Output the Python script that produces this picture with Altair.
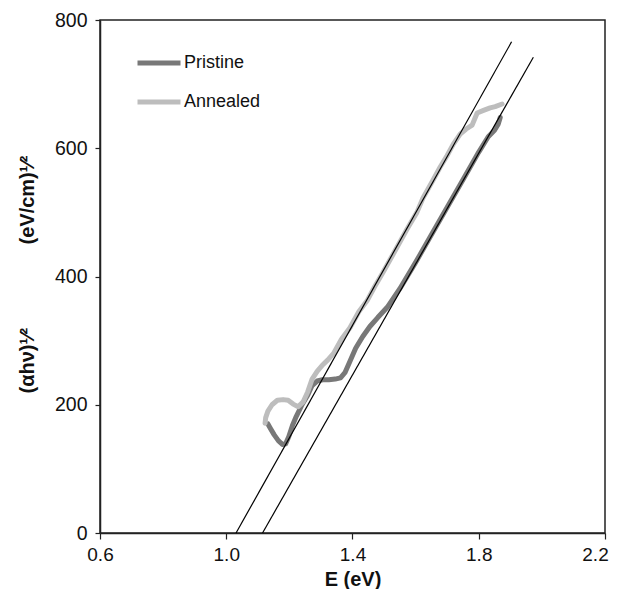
import altair as alt
import pandas as pd

# ---- data ----
series = ["Pristine", "Annealed"]
colors = ["#787878", "#bdbdbd"]

pristine_E = [1.132, 1.140, 1.152, 1.165, 1.178, 1.188, 1.198, 1.210, 1.222, 1.240,
              1.258, 1.272, 1.288, 1.305, 1.325, 1.345, 1.362, 1.376, 1.392, 1.410,
              1.432, 1.455, 1.480, 1.510, 1.550, 1.600, 1.650, 1.700, 1.750, 1.800,
              1.830, 1.850, 1.862, 1.868]
pristine_Y = [170, 163, 153, 144, 138, 139, 150, 168, 182, 200,
              215, 230, 237, 239, 239, 240, 242, 250, 268, 288,
              306, 322, 336, 352, 381, 422, 465, 508, 551, 594,
              618, 628, 638, 648]

annealed_E = [1.123, 1.125, 1.132, 1.145, 1.162, 1.180, 1.196, 1.212, 1.228, 1.243,
              1.258, 1.272, 1.288, 1.305, 1.322, 1.340, 1.365, 1.392, 1.420, 1.446,
              1.470, 1.495, 1.530, 1.573, 1.604, 1.623, 1.655, 1.677, 1.699, 1.719,
              1.741, 1.760, 1.779, 1.795, 1.815, 1.836, 1.852, 1.874]
annealed_Y = [171, 180, 190, 200, 207, 208, 207, 201, 197, 204,
              220, 240, 252, 262, 270, 280, 302, 320, 345, 362,
              384, 405, 436, 474, 500, 522, 550, 570, 588, 606,
              622, 630, 636, 655, 659, 663, 665, 669]

fit_names = ["fit A", "fit P"]
fit_E = [[1.031, 1.904], [1.115, 1.973]]
fit_Y = [[0, 766], [0, 742]]

x_ticks = [0.6, 1.0, 1.4, 1.8, 2.2]
y_ticks = [0, 200, 400, 600, 800]

# ---- tables ----
rows = []
for name, xs, ys in [("Pristine", pristine_E, pristine_Y), ("Annealed", annealed_E, annealed_Y)]:
    for i, (x, y) in enumerate(zip(xs, ys)):
        rows.append({"series": name, "E": x, "Y": y, "i": i})
curves = pd.DataFrame(rows)

frows = []
for name, xs, ys in zip(fit_names, fit_E, fit_Y):
    for i, (x, y) in enumerate(zip(xs, ys)):
        frows.append({"fit": name, "E": x, "Y": y, "i": i})
fits = pd.DataFrame(frows)

FONT = "Liberation Sans"
NB = "\u00a0"
y_title = "(αhν)¹⁄²" + NB * 15 + "(eV/cm)¹⁄²"

x_scale = alt.Scale(domain=[0.6, 2.2], nice=False, zero=False)
y_scale = alt.Scale(domain=[0, 800], nice=False)

x_axis = alt.Axis(values=x_ticks, format=".1f", title="E (eV)", grid=False,
                  labelFlush=False, labelOverlap=False,
                  labelOffset={"condition": {"test": "datum.value > 2.1", "value": -10}, "value": 0},
                  tickSize=6, labelPadding=6, labelFontSize=19, labelColor="#111",
                  titleFontSize=20, titleFontWeight="bold", titleY=52,
                  titleBaseline="alphabetic", titleColor="#111",
                  domainColor="#222", domainWidth=1.5, tickColor="#222", tickWidth=1.2)
y_axis = alt.Axis(values=y_ticks, format="d", title=y_title, grid=False,
                  labelFlush=False, labelOverlap=False,
                  tickSize=5, labelPadding=8, labelFontSize=19.5, labelColor="#111",
                  titleFontSize=20, titleFontWeight="bold", titleAngle=-90,
                  titleX=-67, titleY=254, titleAlign="center",
                  titleBaseline="alphabetic", titleColor="#111",
                  domainColor="#222", domainWidth=1.5, tickColor="#222", tickWidth=1.2)

base_curves = alt.Chart(curves).mark_line(strokeWidth=5, strokeCap="round", strokeJoin="round").encode(
    x=alt.X("E:Q", scale=x_scale, axis=x_axis),
    y=alt.Y("Y:Q", scale=y_scale, axis=y_axis),
    color=alt.Color("series:N", scale=alt.Scale(domain=series, range=colors),
                    legend=alt.Legend(title=None, orient="none", legendX=35, legendY=19,
                                      symbolType="stroke", symbolSize=1849,
                                      symbolStrokeWidth=5, labelFontSize=18,
                                      labelColor="#111", labelOffset=1, padding=0,
                                      rowPadding=5, labelFont=FONT)),
    order=alt.Order("i:Q"),
)

fit_lines = alt.Chart(fits).mark_line(color="black", strokeWidth=1.2).encode(
    x=alt.X("E:Q", scale=x_scale),
    y=alt.Y("Y:Q", scale=y_scale),
    detail="fit:N",
    order=alt.Order("i:Q"),
)

chart = alt.layer(base_curves, fit_lines).properties(
    width=505, height=513,
    autosize="none",
    padding={"left": 92, "top": 12, "right": 5, "bottom": 56},
).configure(font=FONT).configure_view(stroke="#222", strokeWidth=1.5)

chart.save("out.html", embed_options={"renderer": "svg", "actions": False})
